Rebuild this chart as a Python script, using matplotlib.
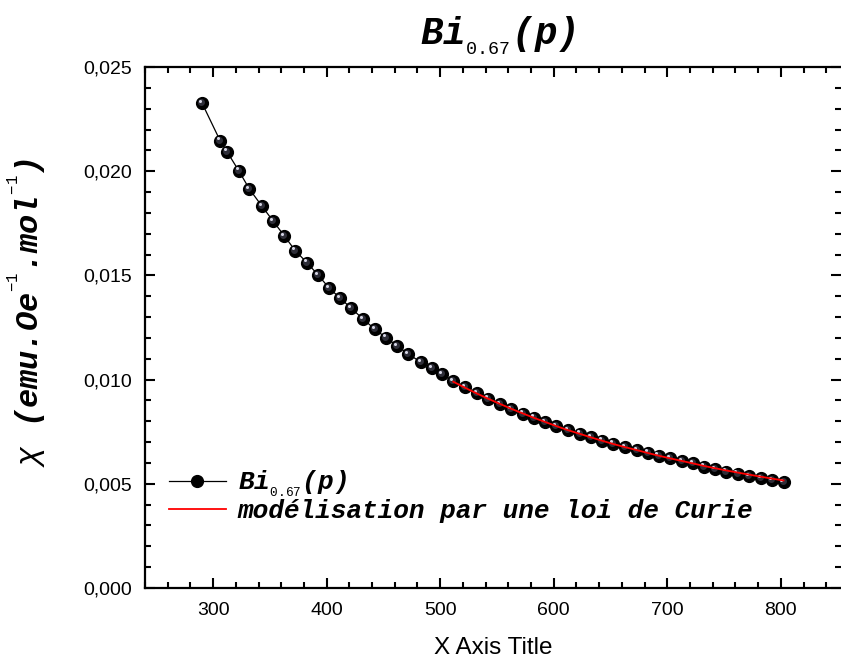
import matplotlib
matplotlib.use("Agg")
import matplotlib.pyplot as plt
from matplotlib.ticker import MultipleLocator, FuncFormatter
from matplotlib.transforms import offset_copy

temp = [290.3, 306.2, 312.3, 322.6, 332.0, 342.9, 352.8, 362.8, 372.4, 382.7,
        392.4, 402.4, 412.1, 421.7, 432.0, 442.6, 452.3, 462.2, 471.9, 483.1,
        492.5, 501.8, 511.5, 521.8, 532.4, 542.3, 552.4, 562.6, 572.6, 582.3,
        592.3, 602.2, 612.2, 622.8, 632.7, 642.4, 652.4, 662.7, 673.0, 682.7,
        692.3, 702.6, 712.6, 722.5, 732.0, 741.9, 751.9, 761.9, 772.1, 782.4,
        792.1, 802.4]
chi = [0.02326, 0.02146, 0.02093, 0.02002, 0.01914, 0.01833, 0.01761, 0.01689,
       0.01618, 0.01561, 0.01502, 0.01438, 0.01390, 0.01342, 0.01291, 0.01241,
       0.01201, 0.01161, 0.01123, 0.01083, 0.01054, 0.01025, 0.00993, 0.00964,
       0.00934, 0.00908, 0.00883, 0.00859, 0.00836, 0.00817, 0.00797, 0.00776,
       0.00757, 0.00740, 0.00723, 0.00707, 0.00692, 0.00677, 0.00662, 0.00649,
       0.00635, 0.00622, 0.00610, 0.00598, 0.00583, 0.00570, 0.00558, 0.00548,
       0.00538, 0.00526, 0.00517, 0.00507]

# courbe de la loi de Curie (rouge)
fit_temp = [511.5, 521.8, 532.4, 542.3, 552.4, 562.6, 572.6, 582.3, 592.3,
            602.2, 612.2, 622.8, 632.7, 642.4, 652.4, 662.7, 673.0, 682.7,
            692.3, 702.6, 712.6, 722.5, 732.0, 741.9, 751.9, 761.9, 772.1,
            782.4, 792.1, 802.4]
fit_chi = [0.00990, 0.00961, 0.00933, 0.00908, 0.00884, 0.00860, 0.00838,
           0.00817, 0.00797, 0.00777, 0.00758, 0.00740, 0.00723, 0.00707,
           0.00691, 0.00676, 0.00662, 0.00648, 0.00635, 0.00622, 0.00610,
           0.00598, 0.00586, 0.00575, 0.00564, 0.00554, 0.00544, 0.00534,
           0.00525, 0.00516]

mono = "Liberation Mono"
plt.rcParams['mathtext.fontset'] = 'custom'
plt.rcParams['mathtext.rm'] = 'Liberation Mono'
plt.rcParams['mathtext.it'] = 'Liberation Mono:italic'
plt.rcParams['mathtext.bf'] = 'Liberation Mono:bold:italic'
plt.rcParams['font.family'] = ['Liberation Sans', 'DejaVu Sans']

fig = plt.figure(figsize=(8.41, 6.59), dpi=100)
ax = fig.add_axes([145 / 841, 71 / 659, 696 / 841, 521 / 659])

# points "boules" noires + reflet
ax.plot(temp, chi, '-', color='black', lw=0.9, zorder=2)
ax.plot(temp, chi, 'o', ms=8.5, color='black', mec='black', zorder=3)
t1 = offset_copy(ax.transData, fig=fig, x=-0.7, y=0.7, units='points')
ax.plot(temp, chi, 'o', ms=5.0, color='#2e2e38', mec='none', transform=t1, zorder=4)
t2 = offset_copy(ax.transData, fig=fig, x=-1.5, y=1.7, units='points')
ax.plot(temp, chi, 'o', ms=2.2, color='#d4d4e4', mec='none', transform=t2, zorder=5)
fit_line, = ax.plot(fit_temp, fit_chi, color='red', lw=1.3, zorder=6)

ax.set_xlim(240, 853)
ax.set_ylim(0, 0.025)
ax.xaxis.set_major_locator(MultipleLocator(100))
ax.xaxis.set_minor_locator(MultipleLocator(20))
ax.yaxis.set_major_locator(MultipleLocator(0.005))
ax.yaxis.set_minor_locator(MultipleLocator(0.001))
ax.yaxis.set_major_formatter(FuncFormatter(lambda v, p: f"{v:.3f}".replace('.', ',')))

for s in ax.spines.values():
    s.set_linewidth(1.6)
ax.spines['right'].set_visible(False)
ax.tick_params(which='both', direction='in', top=True, right=True, width=1.5,
               labelsize=14)
ax.tick_params(axis='y', pad=9)
ax.tick_params(axis='x', pad=10)
ax.tick_params(which='major', length=7)
ax.tick_params(which='minor', length=4)

ax.set_xlabel("X Axis Title", fontsize=17.5, labelpad=13)
ax.set_ylabel(r"$\chi$ (emu.Oe$^{^{-1}}$.mol$^{^{-1}}$)", family=mono,
              weight='bold', style='italic', fontsize=23)
ax.yaxis.set_label_coords(-0.139, 0.53)
ax.set_title(r"Bi$_{_{\mathit{0.67}}}$(p)", family=mono, weight='bold',
             style='italic', fontsize=27, pad=16, x=0.507)

leg_handle, = ax.plot([], [], '-o', color='black', lw=0.9, ms=8.5)
ax.legend([leg_handle, fit_line],
          [r"Bi$_{_{\mathit{0.67}}}$(p)", "modélisation par une loi de Curie"],
          loc='lower left', bbox_to_anchor=(0.0, 0.08), frameon=False,
          prop={'family': mono, 'weight': 'bold', 'style': 'italic', 'size': 18.8},
          handlelength=2.2, handletextpad=0.45, labelspacing=0.0)

fig.savefig("out.png", dpi=100)
